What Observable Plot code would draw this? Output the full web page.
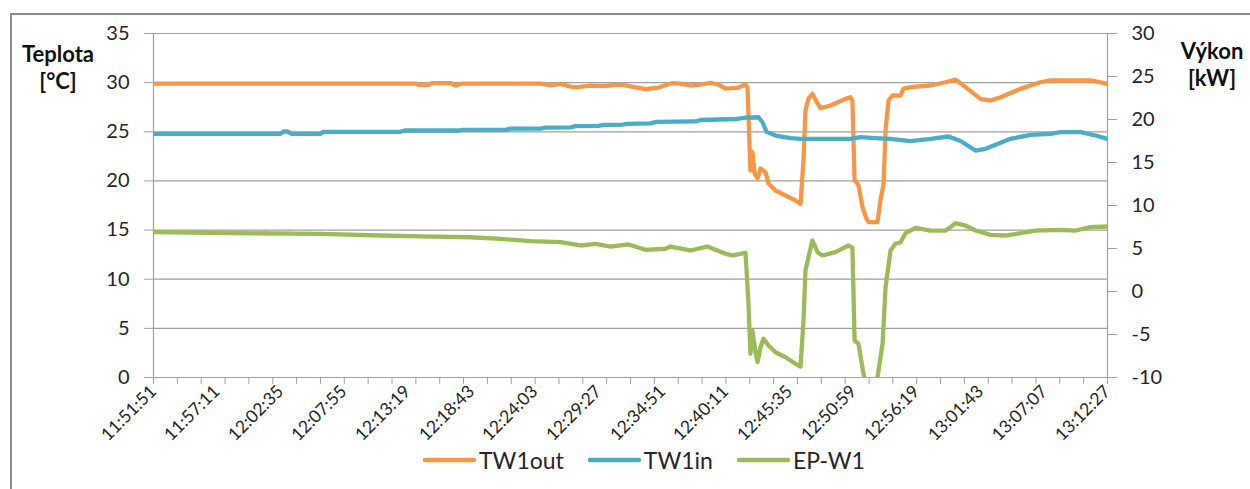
<!DOCTYPE html>
<html>
<head>
<meta charset="utf-8">
<script src="https://cdn.jsdelivr.net/npm/d3@7"></script>
<script src="https://cdn.jsdelivr.net/npm/@observablehq/plot@0.6"></script>
<style>
  body { margin: 0; background: #fff; }
  #wrap { position: relative; width: 1250px; height: 489px; overflow: hidden; font-family: Lato, "Open Sans", sans-serif; color: #262626; }
  #frame { position: absolute; left: 10px; top: 13px; width: 1400px; height: 700px; border: 2px solid #8c8c8c; box-sizing: border-box; }
  #chart { position: absolute; left: 0; top: 0; }
  .ytitle { position: absolute; font-weight: bold; font-size: 22px; line-height: 27px; text-align: center; width: 120px; color: #111; }
  #legend { position: absolute; left: 423px; top: 446px; display: flex; align-items: center; font-size: 23px; color: #262626; }
  #legend .item { display: flex; align-items: center; margin-right: 24px; }
  #legend svg { margin-right: 3px; }
</style>
</head>
<body>
<div id="wrap">
  <div id="frame"></div>
  <div id="chart"></div>
  <div class="ytitle" style="left:-2px; top:40px;">Teplota<br>[°C]</div>
  <div class="ytitle" style="left:1152px; top:37px;">Výkon<br>[kW]</div>
  <div id="legend"></div>
</div>
<script>
// ---- data ----
const seriesNames = ["TW1out", "TW1in", "EP-W1"];
const seriesColors = ["#F79646", "#4BACC6", "#9BBB59"];

const labelTimes = ["11:51:51","11:57:11","12:02:35","12:07:55","12:13:19","12:18:43","12:24:03","12:29:27",
  "12:34:51","12:40:11","12:45:35","12:50:59","12:56:19","13:01:43","13:07:07","13:12:27"];
const leftTicks = [0, 5, 10, 15, 20, 25, 30, 35];
const rightTicks = [-10, -5, 0, 5, 10, 15, 20, 25, 30];

const outTimes = ["11:51:51","12:13:59","12:14:14","12:15:05","12:15:25","12:16:57","12:17:22","12:17:57","12:24:33",
  "12:25:24","12:26:14","12:27:05","12:27:40","12:28:46","12:29:52","12:31:18","12:32:19","12:33:25","12:34:31",
  "12:35:42","12:36:22","12:37:13","12:38:04","12:38:55","12:39:35","12:40:11","12:41:16","12:41:52","12:42:02",
  "12:42:17","12:42:27","12:42:38","12:42:53","12:43:08","12:43:33","12:43:49","12:44:24","12:45:15","12:46:05",
  "12:46:31","12:46:46","12:46:56","12:47:11","12:47:31","12:47:57","12:48:12","12:49:03","12:50:19","12:50:44",
  "12:50:54","12:51:05","12:51:15","12:51:25","12:51:45","12:52:05","12:52:16","12:53:01","12:53:16","12:53:32",
  "12:53:42","12:53:57","12:54:17","12:54:58","12:55:13","12:55:48","12:57:30","12:58:46","12:59:37","13:00:27",
  "13:01:43","13:02:34","13:03:25","13:05:06","13:06:47","13:07:38","13:11:01","13:11:51","13:12:27"];
const outValues = [29.91,29.91,29.78,29.78,29.96,29.96,29.71,29.91,29.91,
  29.71,29.88,29.6,29.54,29.7,29.66,29.8,29.6,29.35,29.5,
  29.96,29.9,29.71,29.8,29.99,29.8,29.4,29.5,29.8,29.5,
  21.06,22.92,20.75,20.25,21.26,20.89,19.74,19.03,18.52,18.01,
  17.67,22.08,27.16,28.38,28.86,27.88,27.4,27.67,28.35,28.52,
  28.18,20.04,19.87,19.53,17.33,16.18,15.8,15.8,18.01,19.74,
  25.13,28.18,28.69,28.69,29.4,29.54,29.71,30.04,30.32,29.54,
  28.35,28.18,28.52,29.37,30.04,30.22,30.22,30.04,29.88];

const inTimes = ["11:51:51","12:02:35","12:02:50","12:03:10","12:03:31","12:05:58","12:06:13","12:12:43","12:13:03",
  "12:17:37","12:17:57","12:21:35","12:22:01","12:24:33","12:24:58","12:27:05","12:27:30","12:29:27","12:29:47",
  "12:31:28","12:31:54","12:33:50","12:34:21","12:37:39","12:38:04","12:41:01","12:41:52","12:42:58","12:43:18",
  "12:43:39","12:44:24","12:45:40","12:46:31","12:50:44","12:51:35","12:52:51","12:54:07","12:55:48","12:57:30",
  "12:59:01","13:00:02","13:01:18","13:02:09","13:04:15","13:05:57","13:07:38","13:08:29","13:10:10","13:11:26","13:12:27"];
const inValues = [24.79,24.79,25.03,25.03,24.79,24.79,25.0,25.0,25.13,
  25.13,25.2,25.2,25.33,25.33,25.43,25.45,25.57,25.6,25.69,
  25.72,25.81,25.85,26.0,26.05,26.2,26.3,26.45,26.48,25.97,
  25.0,24.62,24.35,24.28,24.28,24.45,24.35,24.28,24.06,24.28,
  24.52,24.06,23.09,23.27,24.28,24.69,24.79,24.96,24.96,24.62,24.28];

const epTimes = ["11:51:51","11:58:21","12:05:58","12:11:02","12:14:24","12:18:38","12:21:10","12:23:42","12:26:14",
  "12:27:56","12:29:12","12:30:28","12:31:59","12:33:25","12:35:06","12:35:32","12:37:13","12:38:39","12:40:11",
  "12:40:46","12:41:52","12:42:07","12:42:17","12:42:27","12:42:43","12:42:53","12:43:08","12:43:23","12:43:49",
  "12:44:24","12:45:15","12:46:05","12:46:31","12:46:46","12:46:56","12:47:11","12:47:31","12:47:57","12:48:22",
  "12:49:28","12:50:34","12:50:54","12:51:05","12:51:25","12:51:50","12:52:16","12:52:41","12:53:01","12:53:27",
  "12:53:42","12:54:07","12:54:32","12:54:58","12:55:23","12:56:14","12:57:30","12:58:46","12:59:11","12:59:37",
  "13:00:27","13:01:18","13:02:34","13:03:50","13:05:06","13:06:22","13:08:29","13:09:45","13:11:01","13:12:27"];
const epValues = [6.9,6.8,6.69,6.51,6.4,6.31,6.13,5.85,5.73,
  5.35,5.55,5.23,5.47,4.85,4.97,5.23,4.77,5.23,4.38,
  4.19,4.5,-1.4,-7.24,-4.53,-7.06,-8.22,-6.48,-5.5,-6.28,
  -7.06,-7.64,-8.41,-8.72,-3.37,2.44,3.99,5.93,4.57,4.19,
  4.57,5.35,5.08,-5.7,-6.08,-9.57,-12,-12,-9.97,-6.05,
  0.5,4.77,5.55,5.73,6.78,7.41,7.09,7.09,7.48,7.94,
  7.67,7.09,6.59,6.51,6.78,7.09,7.17,7.09,7.48,7.56];

// ---- build ----
const parse = d3.utcParse("%H:%M:%S");
const fmt = d3.utcFormat("%H:%M:%S");
const kwToC = kw => (kw - rightTicks[0]) * (leftTicks[leftTicks.length - 1] - leftTicks[0]) / (rightTicks[rightTicks.length - 1] - rightTicks[0]);
const cToKw = c => c * (rightTicks[rightTicks.length - 1] - rightTicks[0]) / (leftTicks[leftTicks.length - 1] - leftTicks[0]) + rightTicks[0];

const outData = outTimes.map((t, i) => ({time: parse(t), v: outValues[i]}));
const inData = inTimes.map((t, i) => ({time: parse(t), v: inValues[i]}));
const epData = epTimes.map((t, i) => ({time: parse(t), v: kwToC(epValues[i])}));

const labelDates = labelTimes.map(parse);
const t0 = labelDates[0], t1 = labelDates[labelDates.length - 1];
const minorTicks = d3.range(41).map(i => new Date(+t0 + i * (t1 - t0) / 40));
const gridColor = "#a0a0a0";
const txt = "#262626";

const chart = Plot.plot({
  width: 1250,
  height: 440,
  marginTop: 33,
  marginBottom: 63,
  marginLeft: 153,
  marginRight: 143,
  style: {background: "transparent", fontFamily: "Lato, 'Open Sans', sans-serif", color: txt, overflow: "visible"},
  x: {type: "utc", domain: [t0, t1], label: null},
  y: {domain: [leftTicks[0], leftTicks[leftTicks.length - 1]], label: null},
  marks: [
    Plot.gridY(leftTicks, {stroke: gridColor, strokeOpacity: 1, strokeWidth: 1.2}),
    Plot.ruleX([t0, t1], {stroke: gridColor, strokeWidth: 1.2}),
    Plot.ruleY([0], {stroke: gridColor, strokeWidth: 1.2}),
    Plot.axisY(leftTicks, {anchor: "left", tickSize: 9, tickPadding: 15, fontSize: 20, stroke: gridColor, fill: txt}),
    Plot.axisY(rightTicks.map(kwToC), {anchor: "right", tickSize: 9, tickPadding: 15, fontSize: 20, stroke: gridColor, fill: txt,
      tickFormat: d => String(Math.round(cToKw(d)))}),
    Plot.axisX(minorTicks, {anchor: "bottom", tickSize: 7, tickFormat: () => "", stroke: gridColor}),
    Plot.axisX(labelDates, {anchor: "bottom", tickSize: 0, tickPadding: 11, tickRotate: -45, fontSize: 17.5, fill: txt, tickFormat: fmt}),
    Plot.line(outData, {x: "time", y: "v", stroke: seriesColors[0], strokeWidth: 4.3, strokeLinejoin: "round", clip: true}),
    Plot.line(inData, {x: "time", y: "v", stroke: seriesColors[1], strokeWidth: 4.3, strokeLinejoin: "round", clip: true}),
    Plot.line(epData, {x: "time", y: "v", stroke: seriesColors[2], strokeWidth: 4.3, strokeLinejoin: "round", clip: true})
  ]
});
document.getElementById("chart").appendChild(chart);

// legend
const legend = document.getElementById("legend");
seriesNames.forEach((name, i) => {
  const item = document.createElement("div");
  item.className = "item";
  item.innerHTML = `<svg width="53" height="8"><line x1="2" y1="4" x2="51" y2="4" stroke="${seriesColors[i]}" stroke-width="4.3" stroke-linecap="round"/></svg><span>${name}</span>`;
  legend.appendChild(item);
});
</script>
</body>
</html>
